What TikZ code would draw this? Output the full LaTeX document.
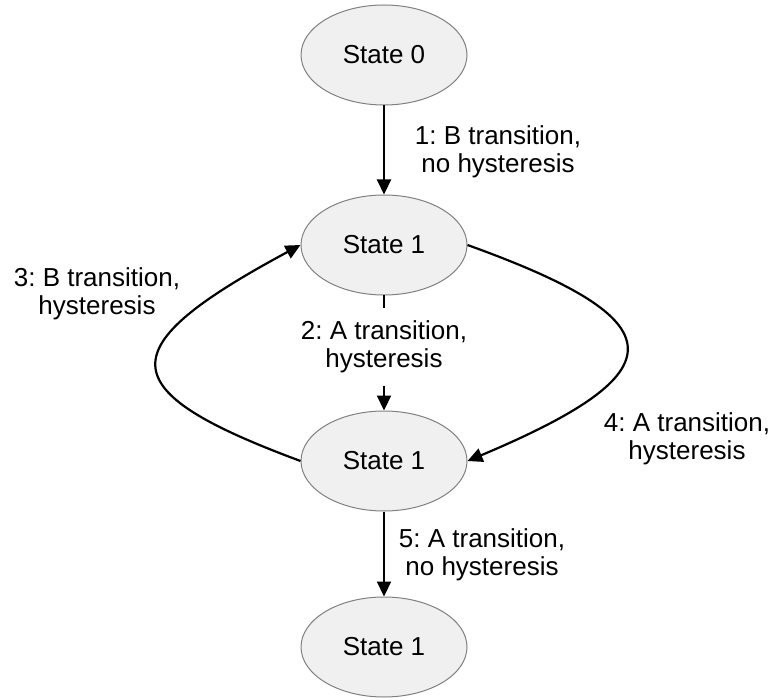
\documentclass[tikz,border=0pt]{standalone}
\usepackage{fontspec}
\setmainfont{Liberation Sans}
\usetikzlibrary{arrows.meta,shapes.geometric}
\frenchspacing
\begin{document}
\begin{tikzpicture}[x=1pt,y=-1pt,
  state/.style={ellipse, draw=black!50, line width=1pt, fill=black!6,
    minimum width=166pt, minimum height=100pt, inner sep=0pt,
    font=\fontsize{26}{29}\selectfont},
  lbl/.style={align=center, font=\fontsize{26}{28.5}\selectfont\frenchspacing, inner sep=0pt},
  edgearrow/.style={line width=2.2pt, -{Triangle[length=15pt,width=14pt]}},
  edgeplain/.style={line width=2.2pt}]
\useasboundingbox (0,0) rectangle (773,700);

\node[state] (s0) at (384,55) {State 0};
\node[state] (s1) at (384,245) {State 1};
\node[state] (s2) at (384,461) {State 1};
\node[state] (s3) at (384,647) {State 1};

\node[lbl] (l1) at (498,152) {1: B transition,\\no hysteresis};
\node[lbl, inner ysep=12pt] (l2) at (384,347) {2: A transition,\\hysteresis};
\node[lbl] (l3) at (97,294) {3: B transition,\\hysteresis};
\node[lbl] (l4) at (687,439) {4: A transition,\\hysteresis};
\node[lbl] (l5) at (482,555) {5: A transition,\\no hysteresis};

\draw[edgearrow] (s0) -- (s1);
\draw[edgeplain] (s1.south) -- (l2.north);
\draw[edgearrow] (l2.south) -- (s2.north);
\draw[edgearrow] (s2.west) .. controls (109,390) and (109,348) .. (s1.west);
\draw[edgearrow] (s1.east) .. controls (679,321) and (679,372) .. (s2.east);
\draw[edgearrow] (s2) -- (s3);
\end{tikzpicture}
\end{document}
